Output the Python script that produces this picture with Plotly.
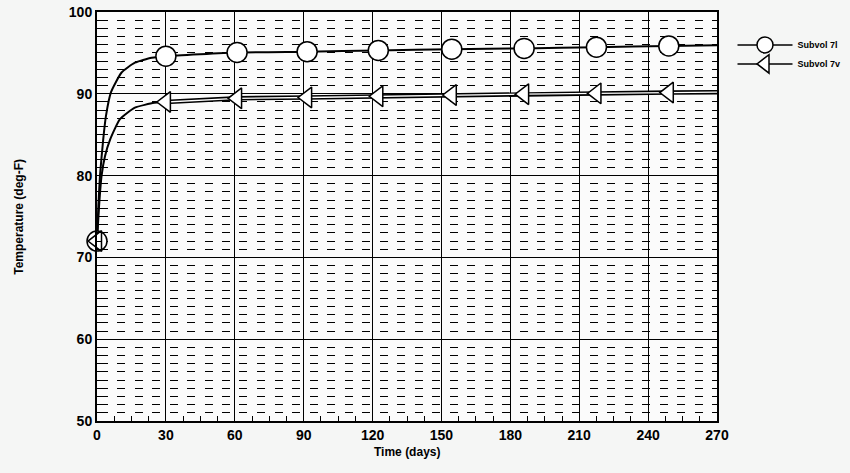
import plotly.graph_objects as go

# ---- data ----
t_7l = [0, 0.6, 1.3, 2.7, 3.9, 6.1, 10.7, 16.5, 23.8, 30, 61, 91.5, 122.5, 154.5, 186, 217.5, 249, 270]
v_7l = [72, 76.3, 80, 84.4, 87.3, 90.2, 92.6, 93.8, 94.4, 94.6, 95.05, 95.15, 95.3, 95.45, 95.55, 95.7, 95.85, 95.95]
mk_t_7l = [0, 30, 61, 91.5, 122.5, 154.5, 186, 217.5, 249]
mk_v_7l = [72, 94.6, 95.05, 95.15, 95.3, 95.45, 95.55, 95.7, 95.85]

t_7v = [0, 0.9, 2.0, 3.5, 5.7, 10, 16.5, 25, 30, 61, 91.5, 122.5, 154.5, 186, 217.5, 249, 270]
v_7v = [72, 76.3, 80, 82.4, 84.4, 86.9, 88.3, 88.9, 89.0, 89.45, 89.55, 89.7, 89.85, 89.95, 90.05, 90.15, 90.2]
mk_t_7v = [0, 30, 61, 91.5, 122.5, 154.5, 186, 217.5, 249]
mk_v_7v = [72, 89.0, 89.45, 89.55, 89.7, 89.85, 89.95, 90.05, 90.15]

series_names = ["Subvol 7l", "Subvol 7v"]
x_ticks = [0, 30, 60, 90, 120, 150, 180, 210, 240, 270]
y_ticks = [50, 60, 70, 80, 90, 100]
x_title = "Time (days)"
y_title = "Temperature (deg-F)"

FONT = "Liberation Sans"
fig = go.Figure()

# curves
fig.add_trace(go.Scatter(x=t_7l, y=v_7l, mode="lines", line=dict(color="black", width=2, shape="spline", smoothing=0.5),
                         showlegend=False, hoverinfo="skip", cliponaxis=False))
fig.add_trace(go.Scatter(x=t_7v, y=v_7v, mode="lines", line=dict(color="black", width=2, shape="spline", smoothing=0.5),
                         showlegend=False, hoverinfo="skip", cliponaxis=False))
# double-line look for the flat part of 7v
i30 = t_7v.index(30)
fig.add_trace(go.Scatter(x=t_7v[i30:], y=v_7v[i30:], mode="lines", line=dict(color="black", width=4.5),
                         showlegend=False, hoverinfo="skip", cliponaxis=False))
fig.add_trace(go.Scatter(x=t_7v[i30:], y=v_7v[i30:], mode="lines", line=dict(color="white", width=1.3),
                         showlegend=False, hoverinfo="skip", cliponaxis=False))

# markers
fig.add_trace(go.Scatter(x=mk_t_7l, y=mk_v_7l, mode="markers",
                         marker=dict(symbol="circle", size=20, color="white", line=dict(color="black", width=1.5)),
                         showlegend=False, cliponaxis=False))
fig.add_trace(go.Scatter(x=mk_t_7v, y=mk_v_7v, mode="markers",
                         marker=dict(symbol="triangle-left", size=18, color="white", line=dict(color="black", width=1.5)),
                         showlegend=False, cliponaxis=False))

# legend entries
fig.add_trace(go.Scatter(x=[None], y=[None], mode="lines+markers", name=series_names[0],
                         line=dict(color="black", width=1.5),
                         marker=dict(symbol="circle", size=18, color="white", line=dict(color="black", width=1.5))))
fig.add_trace(go.Scatter(x=[None], y=[None], mode="lines+markers", name=series_names[1],
                         line=dict(color="black", width=1.5),
                         marker=dict(symbol="triangle-left", size=16, color="white", line=dict(color="black", width=1.5))))

fig.update_layout(
    width=850, height=473,
    margin=dict(l=97, r=133, t=12, b=52, autoexpand=False),
    paper_bgcolor="#f5f6f5", plot_bgcolor="#fbfbfb",
    font=dict(family=FONT, color="black"),
    showlegend=True,
    legend=dict(x=1.025, y=0.955, xanchor="left", yanchor="top", bgcolor="rgba(0,0,0,0)",
                font=dict(size=9, family=FONT, weight="bold"), itemwidth=55, tracegroupgap=0,
                itemsizing="trace"),
    xaxis=dict(range=[0, 270], tickvals=x_ticks, ticktext=[str(v) for v in x_ticks],
               showgrid=True, gridcolor="black", gridwidth=1.2, automargin=False,
               showline=True, linecolor="black", linewidth=2, mirror=True,
               ticks="inside", ticklen=5, tickcolor="black",
               minor=dict(dtick=7.5, ticks="inside", ticklen=5, tickcolor="black", showgrid=False),
               tickfont=dict(size=14, family=FONT, weight="bold"),
               zeroline=False),
    yaxis=dict(range=[50, 100], tickvals=y_ticks, ticktext=[str(v) for v in y_ticks],
               showgrid=True, gridcolor="black", gridwidth=1.2, automargin=False,
               showline=True, linecolor="black", linewidth=2, mirror="ticks",
               ticks="inside", ticklen=5, tickcolor="black",
               minor=dict(dtick=1, ticks="inside", ticklen=4, tickcolor="black", showgrid=True,
                          gridcolor="black", gridwidth=1.3, griddash="0px,2.5px,8px,7px"),
               tickfont=dict(size=14, family=FONT, weight="bold"),
               zeroline=False),
    annotations=[
        dict(text=x_title, xref="paper", yref="paper", x=0.5, y=-0.0758, xanchor="center", yanchor="middle",
             showarrow=False, font=dict(size=12, family=FONT, weight="bold")),
        dict(text=y_title, xref="paper", yref="paper", x=-0.127, y=0.5, xanchor="center", yanchor="middle",
             textangle=-90, showarrow=False, font=dict(size=12, family=FONT, weight="bold")),
    ],
)

fig.write_html("out.html", config={"displayModeBar": False},
               post_script="document.body.style.margin='0';document.body.style.padding='0';")
